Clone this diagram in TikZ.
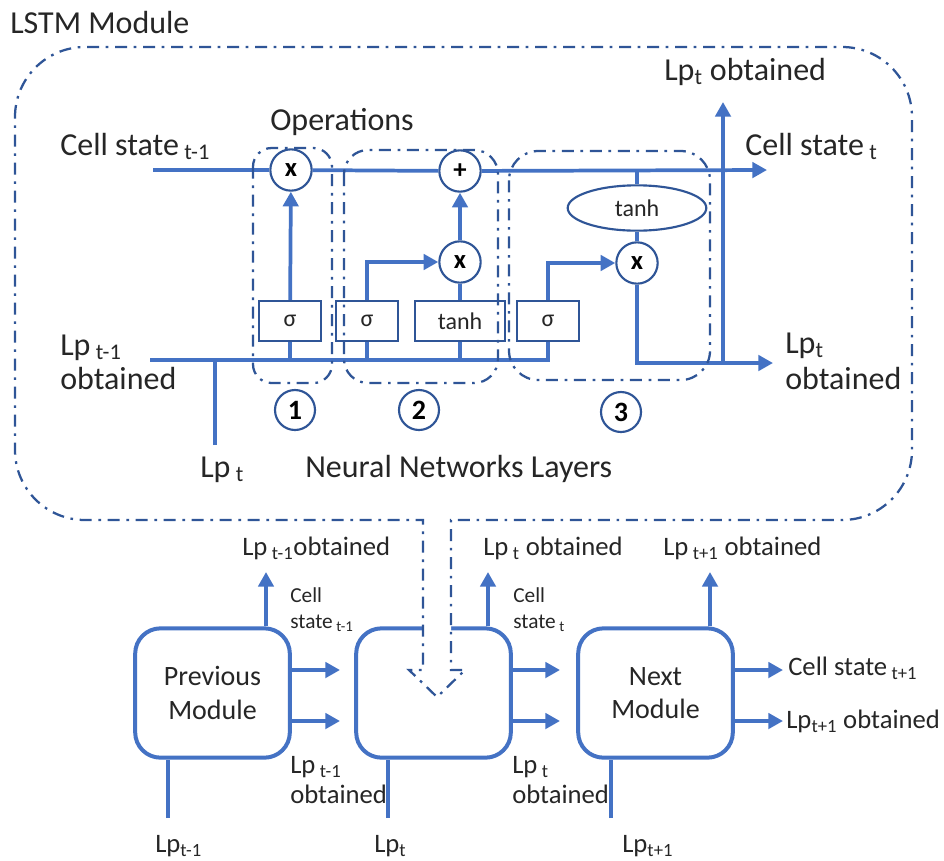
\documentclass[tikz,border=0pt]{standalone}
\usepackage{fontspec}
\setmainfont{Carlito}
\usetikzlibrary{arrows.meta,shapes.geometric}

\definecolor{lineblue}{HTML}{4472C4}
\definecolor{darkblue}{HTML}{2F5597}
\definecolor{txtgray}{HTML}{262626}

\tikzset{
	conn/.style={draw=lineblue, line width=2.8pt},
	arr/.style={conn, -{Triangle[length=11pt,width=11.5pt]}, lineblue},
	dashdot/.style={draw=darkblue, line width=1.7pt, dash pattern=on 9pt off 5pt on 2pt off 5pt},
	opcirc/.style={circle, draw=darkblue, line width=1.6pt, fill=white, minimum size=31pt, inner sep=0pt, text=black, font=\fontsize{20}{20}\selectfont\bfseries},
	layerbox/.style={rectangle, draw=darkblue, line width=1.6pt, minimum height=30pt, inner sep=0pt, text=txtgray, font=\fontsize{18}{18}\selectfont},
	numcirc/.style={circle, draw=darkblue, line width=1.6pt, minimum size=30pt, inner sep=0pt, text=black, font=\fontsize{21}{21}\selectfont\bfseries},
	module/.style={rectangle, rounded corners=19pt, draw=lineblue, line width=3pt, fill=white, minimum width=116pt, minimum height=97pt, align=center, text=txtgray, font=\fontsize{21}{25}\selectfont},
	big/.style={anchor=base west, inner sep=0pt, text=txtgray, font=\fontsize{24}{24}\selectfont},
	mid/.style={anchor=base west, inner sep=0pt, text=txtgray, font=\fontsize{20}{20}\selectfont},
	small/.style={anchor=base west, inner sep=0pt, text=txtgray, font=\fontsize{16}{16}\selectfont},
}

\begin{document}
\begin{tikzpicture}[x=0.75pt, y=-0.75pt, line join=miter]
	\useasboundingbox (0,0) rectangle (944,860);

	% chain of modules
	\node[module] (prev) at (212.5,693) {Previous\\Module};
	\node[module] (cur) at (433.5,693) {};
	\node[module] (next) at (655.5,693) {Next\\Module};
	\foreach \m/\up/\in/\out in {prev/266/168/340, cur/488/388/560, next/710/611/783} {
		\coordinate (\m-up) at (\up,572);
		\coordinate (\m-in) at (\in,818);
		\coordinate (\m-c) at (\out,670);
		\coordinate (\m-h) at (\out,721);
		\draw[arr] (\m.north -| \m-up) -- (\m-up);
		\draw[arr] (\m.east |- \m-c) -- (\m-c);
		\draw[arr] (\m.east |- \m-h) -- (\m-h);
		\draw[conn] (\m-in) -- (\m.south -| \m-in);
	}

	% zoomed module, callout pointing into the middle box
	\draw[dashdot, fill=white] (15,117) arc[start angle=180, end angle=270, radius=70]
		-- (842,47) arc[start angle=270, end angle=360, radius=70]
		-- (912,450) arc[start angle=0, end angle=90, radius=70]
		-- (451,520) -- (451,670) -- (465,670) -- (437,697) -- (409,670) -- (423,670) -- (423,520)
		-- (85,520) arc[start angle=90, end angle=180, radius=70] -- cycle;

	% operations
	\node[opcirc] (f1) at (291,170) {x};
	\node[opcirc] (add) at (460,171) {+};
	\node[opcirc] (m2) at (460,262) {x};
	\node[opcirc] (m3) at (637,263) {x};
	% layers
	\node[layerbox, minimum width=46pt] (s1) at (290,321) {σ};
	\node[layerbox, minimum width=46pt] (s2) at (367,321) {σ};
	\node[layerbox, minimum width=68pt] (th) at (460,321) {tanh};
	\node[layerbox, minimum width=46pt] (s3) at (548,321) {σ};
	\node[ellipse, draw=darkblue, line width=1.6pt, fill=white, minimum width=104pt, minimum height=34pt, inner sep=0pt, text=txtgray, font=\fontsize{18}{18}\selectfont] (tc) at (637,208) {tanh};

	\coordinate (cin) at (153,170);
	\coordinate (cout) at (767,170);
	\coordinate (hin) at (150,360);
	\coordinate (xin) at (215,445);
	\coordinate (hout) at (773,363);
	\coordinate (hup) at (723,102);

	% cell state line
	\draw[conn] (cin) -- (f1);
	\draw[conn] (f1) -- (add);
	\draw[arr] (add) -- (cout);
	% hidden state line
	\draw[conn] (hin) -- (hin -| s3) -- (s3.south);
	\draw[conn] (xin) -- (xin |- hin);
	\foreach \b in {s1,s2,th} \draw[conn] (\b.south) -- (\b.south |- hin);
	\draw[arr] (s1) -- (f1);
	\draw[arr] (s2.north) |- (m2);
	\draw[conn] (th) -- (m2);
	\draw[arr] (m2) -- (add);
	\draw[conn] (tc |- cin) -- (tc);
	\draw[conn] (tc) -- (m3);
	\draw[arr] (s3.north) |- (m3);
	\draw[arr] (m3.south) |- (hout);
	\draw[arr] (hup |- hout) -- (hup);

	% groups
	\draw[dashdot, rounded corners=14pt] (253,148) rectangle (332,383);
	\draw[dashdot, rounded corners=18pt] (344,150) rectangle (498,383);
	\draw[dashdot, rounded corners=22pt] (509,151) rectangle (710,380);
	\node[numcirc] (g1) at (295,410) {1};
	\node[numcirc] (g2) at (419,410) {2};
	\node[numcirc] (g3) at (621,412) {3};

	% labels
	\node[big] (title) at (10,33) {LSTM Module};
	\node[big] (ops) at (270,130) {Operations};
	\node[big] (cprev) at (60,155) {Cell state\,\textsubscript{t-1}};
	\node[big] (hobt) at (664,80) {Lp\textsubscript{t} obtained};
	\node[big] (cnext) at (745,155) {Cell state\,\textsubscript{t}};
	\node[big] (hprev) at (60,355) {Lp\,\textsubscript{t-1}};
	\node[big] (hprevb) at (60,389) {obtained};
	\node[big] (hnext) at (785,353) {Lp\textsubscript{t}};
	\node[big] (hnextb) at (785,389) {obtained};
	\node[big] (xlab) at (200,477) {Lp\,\textsubscript{t}};
	\node[big] (nnl) at (305,477) {Neural Networks Layers};

	\node[mid] (oa) at (242,555) {Lp\,\textsubscript{t-1}obtained};
	\node[mid] (ob) at (483,555) {Lp\,\textsubscript{t} obtained};
	\node[mid] (oc) at (663,555) {Lp\,\textsubscript{t+1} obtained};
	\node[small] (ca) at (290,602) {Cell};
	\node[small] (cab) at (290,628) {state\,\textsubscript{t-1}};
	\node[small] (cb) at (513,602) {Cell};
	\node[small] (cbb) at (513,628) {state\,\textsubscript{t}};
	\node[mid] (ha) at (290,773) {Lp\,\textsubscript{t-1}};
	\node[mid] (hab) at (290,803) {obtained};
	\node[mid] (hb) at (512,773) {Lp\,\textsubscript{t}};
	\node[mid] (hbb) at (512,803) {obtained};
	\node[mid] (cc) at (788,675) {Cell state\,\textsubscript{t+1}};
	\node[mid] (hc) at (786,728) {Lp\textsubscript{t+1} obtained};
	\node[mid] (ia) at (155,852) {Lp\textsubscript{t-1}};
	\node[mid] (ib) at (374,852) {Lp\textsubscript{t}};
	\node[mid] (ic) at (622,852) {Lp\textsubscript{t+1}};
\end{tikzpicture}
\end{document}
